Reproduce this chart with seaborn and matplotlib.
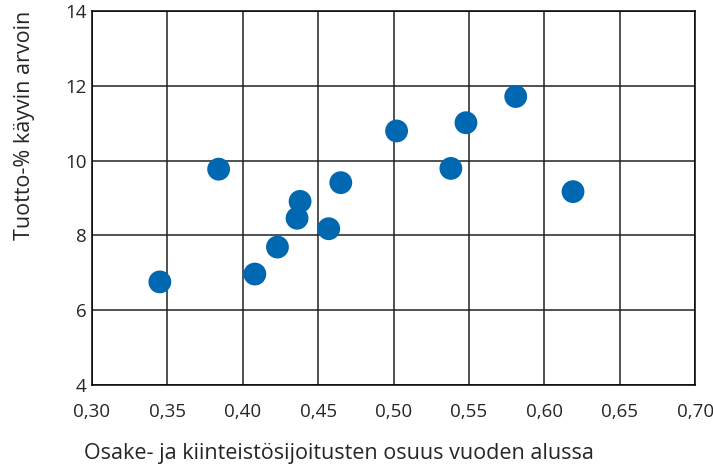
import matplotlib
matplotlib.use('Agg')
import matplotlib.pyplot as plt
import seaborn as sns
import pandas as pd
from matplotlib.ticker import FuncFormatter

# Values
osuus = [0.345, 0.384, 0.408, 0.423, 0.436, 0.438, 0.457, 0.465, 0.502, 0.538, 0.548, 0.581, 0.619]
tuotto = [6.76, 9.77, 6.97, 7.69, 8.46, 8.91, 8.18, 9.41, 10.79, 9.79, 11.01, 11.71, 9.17]

x_ticks = [0.30, 0.35, 0.40, 0.45, 0.50, 0.55, 0.60, 0.65, 0.70]
y_ticks = [4, 6, 8, 10, 12, 14]

data = pd.DataFrame({'osuus': osuus, 'tuotto': tuotto})

sns.set_style('white')
plt.rcParams['font.family'] = ['Open Sans', 'DejaVu Sans']

fig = plt.figure(figsize=(7.13, 4.67), dpi=100)
ax = fig.add_axes([0.129, 0.175, 0.846, 0.802])

sns.scatterplot(data=data, x='osuus', y='tuotto', s=270, color='#0067b1',
                edgecolor='none', ax=ax, zorder=3)

ax.set_xlim(0.30, 0.70)
ax.set_ylim(4, 14)
ax.set_xticks(x_ticks)
ax.set_yticks(y_ticks)
ax.xaxis.set_major_formatter(FuncFormatter(lambda v, p: f'{v:.2f}'.replace('.', ',')))
ax.grid(True, color='#222222', linewidth=1.1)
ax.set_axisbelow(True)
for sp in ax.spines.values():
    sp.set_color('black')
    sp.set_linewidth(1.1)
ax.tick_params(length=0, labelsize=13.5)
ax.tick_params(axis='x', pad=13)
ax.tick_params(axis='y', pad=4)

ax.set_xlabel('Osake- ja kiinteistösijoitusten osuus vuoden alussa', fontsize=15.5)
ax.set_ylabel('Tuotto-% käyvin arvoin', fontsize=15.5)
ax.xaxis.set_label_coords(0.41, -0.155)
ax.yaxis.set_label_coords(-0.095, 0.695)

fig.savefig('out.png', dpi=100)
